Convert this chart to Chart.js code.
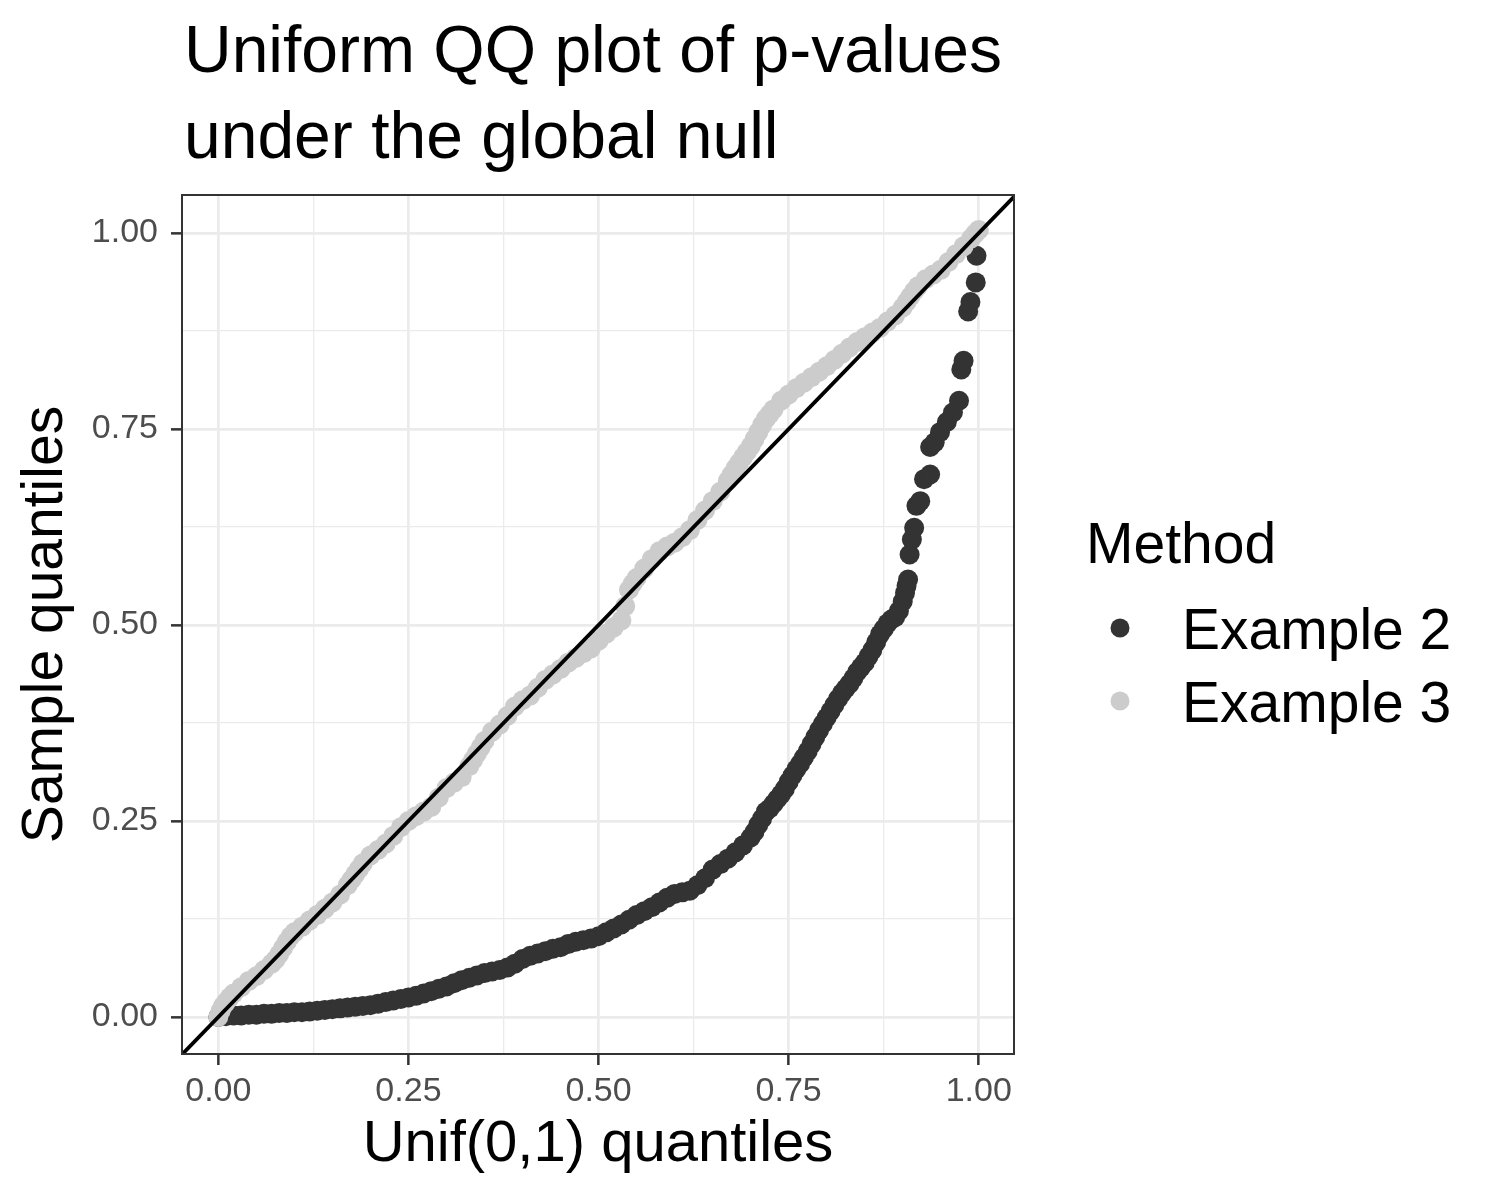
<!DOCTYPE html>
<html>
<head>
<meta charset="utf-8">
<title>Uniform QQ plot of p-values</title>
<script src="https://cdn.jsdelivr.net/npm/chart.js@4.4.1/dist/chart.umd.min.js"></script>
<style>
  body { margin: 0; background: #ffffff; }
  #wrap { width: 1500px; height: 1200px; }
</style>
</head>
<body>
<div id="wrap"><canvas id="qq" width="1500" height="1200"></canvas></div>
<script>
// chart text
const titleLines = ['Uniform QQ plot of p-values', 'under the global null'];
const xTitle = 'Unif(0,1) quantiles';
const yTitle = 'Sample quantiles';
const legendTitle = 'Method';
const seriesNames = ['Example 2', 'Example 3'];
const majorTicks = [0, 0.25, 0.5, 0.75, 1];

// Example 2: theoretical quantile / sample quantile
const ex2X = [0, 0.01, 0.02, 0.03, 0.04, 0.05, 0.06, 0.07, 0.08, 0.09,
  0.10, 0.11, 0.12, 0.13, 0.14, 0.15, 0.16, 0.17, 0.18, 0.19,
  0.20, 0.21, 0.22, 0.23, 0.24, 0.25, 0.26, 0.27, 0.28, 0.29,
  0.30, 0.31, 0.32, 0.33, 0.34, 0.35, 0.36, 0.37, 0.38, 0.39,
  0.40, 0.41, 0.42, 0.43, 0.44, 0.45, 0.46, 0.47, 0.48, 0.49,
  0.50, 0.51, 0.52, 0.53, 0.54, 0.55, 0.56, 0.57, 0.58, 0.59,
  0.60, 0.61, 0.62, 0.63, 0.64, 0.65, 0.66, 0.67, 0.68, 0.69,
  0.70, 0.705, 0.71, 0.715, 0.72, 0.725, 0.73, 0.735, 0.74, 0.745,
  0.75, 0.755, 0.76, 0.765, 0.77, 0.775, 0.78, 0.785, 0.79, 0.795,
  0.80, 0.805, 0.81, 0.815, 0.82, 0.825, 0.83, 0.835, 0.84, 0.845,
  0.85, 0.855, 0.86, 0.865, 0.87, 0.875, 0.88, 0.885, 0.89, 0.895,
  0.90, 0.903, 0.905, 0.907, 0.909, 0.912, 0.915, 0.918, 0.923, 0.928,
  0.936, 0.936, 0.942, 0.949, 0.958, 0.966, 0.974, 0.977, 0.980, 0.986,
  0.989, 0.996, 0.997];
const ex2Y = [0.000, 0.001, 0.002, 0.002, 0.003, 0.003, 0.004, 0.004, 0.005, 0.005,
  0.006, 0.006, 0.007, 0.008, 0.009, 0.010, 0.011, 0.012, 0.013, 0.014,
  0.015, 0.017, 0.019, 0.021, 0.023, 0.025, 0.027, 0.030, 0.033, 0.036,
  0.039, 0.043, 0.047, 0.050, 0.053, 0.056, 0.058, 0.060, 0.063, 0.068,
  0.074, 0.078, 0.081, 0.084, 0.087, 0.089, 0.093, 0.096, 0.098, 0.100,
  0.103, 0.108, 0.113, 0.118, 0.124, 0.130, 0.135, 0.140, 0.146, 0.152,
  0.157, 0.159, 0.161, 0.168, 0.177, 0.188, 0.195, 0.202, 0.210, 0.219,
  0.229, 0.236, 0.245, 0.253, 0.262, 0.266, 0.272, 0.278, 0.284, 0.291,
  0.300, 0.308, 0.316, 0.323, 0.331, 0.339, 0.348, 0.357, 0.366, 0.374,
  0.382, 0.390, 0.398, 0.406, 0.413, 0.419, 0.425, 0.432, 0.440, 0.446,
  0.452, 0.460, 0.468, 0.478, 0.488, 0.495, 0.502, 0.507, 0.510, 0.518,
  0.530, 0.541, 0.550, 0.558, 0.590, 0.609, 0.624, 0.652, 0.658, 0.686,
  0.692, 0.727, 0.733, 0.746, 0.759, 0.771, 0.786, 0.826, 0.837, 0.900,
  0.912, 0.937, 0.971];

// Example 3
const ex3X = [0, 0.003, 0.006, 0.01, 0.015, 0.02, 0.03, 0.04, 0.05, 0.06,
  0.07, 0.075, 0.08, 0.085, 0.09, 0.095, 0.10, 0.11, 0.12, 0.13,
  0.14, 0.15, 0.16, 0.17, 0.175, 0.18, 0.185, 0.19, 0.20, 0.21,
  0.22, 0.23, 0.24, 0.25, 0.26, 0.27, 0.28, 0.29, 0.30, 0.31,
  0.32, 0.33, 0.335, 0.34, 0.345, 0.35, 0.36, 0.37, 0.38, 0.39,
  0.40, 0.41, 0.42, 0.43, 0.44, 0.45, 0.46, 0.47, 0.48, 0.49,
  0.50, 0.51, 0.52, 0.53, 0.535, 0.54, 0.545, 0.55, 0.56, 0.57,
  0.58, 0.59, 0.60, 0.61, 0.62, 0.63, 0.64, 0.65, 0.66, 0.67,
  0.675, 0.68, 0.685, 0.69, 0.695, 0.70, 0.705, 0.71, 0.715, 0.72,
  0.725, 0.73, 0.74, 0.75, 0.76, 0.77, 0.78, 0.79, 0.80, 0.81,
  0.82, 0.83, 0.84, 0.85, 0.86, 0.87, 0.88, 0.89, 0.90, 0.905,
  0.91, 0.915, 0.92, 0.93, 0.94, 0.95, 0.96, 0.97, 0.98, 0.99,
  0.995, 1.0];
const ex3Y = [0.000, 0.008, 0.014, 0.019, 0.025, 0.030, 0.038, 0.046, 0.052, 0.060,
  0.068, 0.073, 0.080, 0.088, 0.096, 0.103, 0.108, 0.115, 0.123, 0.130,
  0.138, 0.146, 0.156, 0.168, 0.175, 0.182, 0.189, 0.196, 0.206, 0.213,
  0.221, 0.231, 0.242, 0.250, 0.256, 0.262, 0.268, 0.280, 0.292, 0.299,
  0.306, 0.320, 0.328, 0.336, 0.344, 0.352, 0.364, 0.373, 0.384, 0.396,
  0.404, 0.410, 0.420, 0.430, 0.437, 0.444, 0.452, 0.458, 0.464, 0.470,
  0.480, 0.489, 0.497, 0.506, 0.524, 0.545, 0.553, 0.560, 0.572, 0.584,
  0.594, 0.600, 0.605, 0.612, 0.621, 0.634, 0.646, 0.658, 0.670, 0.684,
  0.692, 0.700, 0.707, 0.714, 0.721, 0.728, 0.737, 0.746, 0.755, 0.763,
  0.769, 0.775, 0.786, 0.794, 0.802, 0.809, 0.816, 0.823, 0.830, 0.838,
  0.846, 0.854, 0.861, 0.867, 0.873, 0.879, 0.887, 0.895, 0.905, 0.912,
  0.919, 0.926, 0.932, 0.941, 0.947, 0.953, 0.963, 0.973, 0.983, 0.993,
  0.999, 1.004];

// reference line y = x
const refLine = [-0.1, 1.1];

const FONT = "'Liberation Sans', Arial, Helvetica, sans-serif";
const colEx2 = '#333333';
const colEx3 = '#cccccc';

function toPoints(xs, ys) {
  return xs.map((x, i) => ({ x: x, y: ys[i] }));
}
function isMajor(v) {
  return majorTicks.some(t => Math.abs(t - v) < 1e-6);
}

// title, panel border and legend drawn on top
const decorations = {
  id: 'decorations',
  afterDraw(chart) {
    const ctx = chart.ctx;
    const a = chart.chartArea;
    ctx.save();
    // panel border
    ctx.strokeStyle = '#333333';
    ctx.lineWidth = 2;
    ctx.strokeRect(a.left, a.top, a.right - a.left, a.bottom - a.top);

    // title
    ctx.fillStyle = '#000000';
    ctx.font = '66px ' + FONT;
    ctx.textAlign = 'left';
    ctx.textBaseline = 'alphabetic';
    ctx.fillText(titleLines[0], 184, 72);
    ctx.fillText(titleLines[1], 184, 158);

    // legend, in the order of seriesNames
    ctx.font = '57px ' + FONT;
    ctx.fillText(legendTitle, 1086, 563);
    seriesNames.forEach((name, i) => {
      const d = chart.data.datasets.find(ds => ds.label === name);
      const cy = 628 + i * 73;
      ctx.beginPath();
      ctx.fillStyle = d.backgroundColor;
      ctx.arc(1120, cy, 9.5, 0, Math.PI * 2);
      ctx.fill();
      ctx.fillStyle = '#000000';
      ctx.fillText(name, 1182, cy + 21);
    });
    ctx.restore();
  }
};

Chart.defaults.font.family = FONT;

new Chart(document.getElementById('qq'), {
  type: 'scatter',
  data: {
    datasets: [
      {
        type: 'line',
        label: 'y = x',
        data: toPoints(refLine, refLine),
        borderColor: '#000000',
        borderWidth: 3.8,
        pointRadius: 0,
        clip: 0,
        order: 0
      },
      {
        label: seriesNames[1],
        data: toPoints(ex3X, ex3Y),
        backgroundColor: colEx3,
        borderWidth: 0,
        pointRadius: 10,
        order: 1
      },
      {
        label: seriesNames[0],
        data: toPoints(ex2X, ex2Y),
        backgroundColor: colEx2,
        borderWidth: 0,
        pointRadius: 10,
        order: 2
      }
    ]
  },
  options: {
    responsive: false,
    animation: false,
    devicePixelRatio: 1,
    layout: { padding: { left: 0, top: 195, right: 486, bottom: 0 } },
    plugins: {
      legend: { display: false },
      tooltip: { enabled: false },
      title: { display: false }
    },
    scales: {
      x: {
        type: 'linear',
        min: -0.0478,
        max: 1.0463,
        afterFit(scale) { scale.height = 146; },
        border: { display: false },
        grid: {
          color: '#ebebeb',
          lineWidth: c => isMajor(c.tick.value) ? 2.7 : 1.3,
          tickColor: c => isMajor(c.tick.value) ? '#333333' : 'rgba(0,0,0,0)',
          tickWidth: 2.5,
          tickLength: 11
        },
        ticks: {
          stepSize: 0.125,
          includeBounds: false,
          autoSkip: false,
          maxRotation: 0,
          padding: 6,
          color: '#4d4d4d',
          font: { size: 34 },
          callback: v => isMajor(v) ? v.toFixed(2) : ''
        },
        title: {
          display: true,
          text: xTitle,
          color: '#000000',
          font: { size: 58 },
          padding: { top: 0, bottom: 20 }
        }
      },
      y: {
        type: 'linear',
        min: -0.0472,
        max: 1.0485,
        afterFit(scale) { scale.width = 182; },
        border: { display: false },
        grid: {
          color: '#ebebeb',
          lineWidth: c => isMajor(c.tick.value) ? 2.7 : 1.3,
          tickColor: c => isMajor(c.tick.value) ? '#333333' : 'rgba(0,0,0,0)',
          tickWidth: 2.5,
          tickLength: 11
        },
        ticks: {
          stepSize: 0.125,
          includeBounds: false,
          autoSkip: false,
          padding: 13,
          color: '#4d4d4d',
          font: { size: 34 },
          callback: v => isMajor(v) ? v.toFixed(2) : ''
        },
        title: {
          display: true,
          text: yTitle,
          color: '#000000',
          font: { size: 57 },
          padding: { top: 12, bottom: 0 }
        }
      }
    }
  },
  plugins: [decorations]
});
</script>
</body>
</html>
